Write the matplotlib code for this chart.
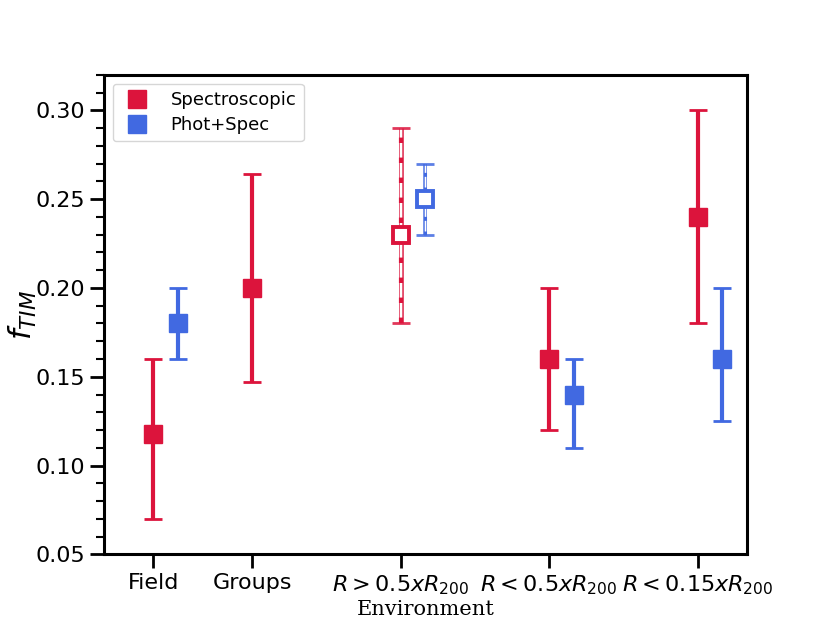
import matplotlib
matplotlib.use("Agg")
import matplotlib.pyplot as plt
import numpy as np

labels = ["Field", "Groups", r"$R > 0.5xR_{200}$", r"$R < 0.5xR_{200}$", r"$R < 0.15xR_{200}$"]
xpos = [0, 1, 2.5, 4, 5.5]

spec_y = [0.118, 0.200, 0.230, 0.160, 0.240]
spec_lo = [0.070, 0.147, 0.180, 0.120, 0.180]
spec_hi = [0.160, 0.264, 0.290, 0.200, 0.300]
spec_open = [False, False, True, False, False]

phot_idx = [0, 2, 3, 4]
phot_y = [0.180, 0.250, 0.140, 0.160]
phot_lo = [0.160, 0.230, 0.110, 0.125]
phot_hi = [0.200, 0.270, 0.160, 0.200]
phot_open = [False, True, False, False]

offset = 0.25
red = "#DC143C"
blue = "#4169E1"

fig = plt.figure(figsize=(8.3, 6.23), dpi=100)
ax = fig.add_subplot(111)


def draw(x, y, lo, hi, col, opn, lw, cap):
    if not opn:
        ax.errorbar([x], [y], yerr=[[y - lo], [hi - y]], fmt='s', color=col,
                    ms=13, elinewidth=lw, capsize=cap, capthick=2, zorder=3)
    else:
        # hollow dotted error bar
        ax.plot([x, x], [lo, hi], color=col, lw=lw + 0.6, alpha=0.75,
                solid_capstyle='butt', zorder=2)
        ax.plot([x, x], [lo, hi], color='white', lw=lw - 1.4,
                solid_capstyle='butt', zorder=2.1)
        ax.plot([x, x], [lo, hi], color=col, lw=lw, zorder=2.2,
                dashes=(1.3, 3.5), dash_capstyle='butt')
        ax.errorbar([x], [y], yerr=[[y - lo], [hi - y]], fmt='none', ecolor=col,
                    elinewidth=0, capsize=cap, capthick=2, alpha=0.85, zorder=2.3)
        ax.plot([x], [y], marker='s', ms=12, mfc='white', mec=col, mew=2.8,
                ls='none', zorder=4)


for i, x in enumerate(xpos):
    draw(x, spec_y[i], spec_lo[i], spec_hi[i], red, spec_open[i], 3.0, 6.5)
for j, i in enumerate(phot_idx):
    lw = 3.0 if not phot_open[j] else 2.2
    draw(xpos[i] + offset, phot_y[j], phot_lo[j], phot_hi[j], blue, phot_open[j], lw, 6.5)

# legend handles
ax.plot([], [], 's', color=red, ms=13, label="Spectroscopic")
ax.plot([], [], 's', color=blue, ms=13, label="Phot+Spec")
ax.legend(loc='upper left', fontsize=13, handletextpad=0.9, borderpad=0.4,
          labelspacing=0.4, handlelength=1.9)

ax.set_xlim(-0.5, 6.0)
ax.set_ylim(0.05, 0.32)
ax.set_xticks(xpos)
ax.set_xticklabels(labels)
ax.set_yticks([0.05, 0.10, 0.15, 0.20, 0.25, 0.30])
ax.set_yticks(np.arange(0.05, 0.3201, 0.01), minor=True)
ax.tick_params(axis='both', which='major', labelsize=16, length=10, width=2)
ax.tick_params(axis='y', which='minor', length=6, width=1.5)
for s in ax.spines.values():
    s.set_linewidth(2.2)
ax.set_ylabel(r"$f_{TIM}$", fontsize=22, labelpad=-3)
ax.set_xlabel("Environment", family="DejaVu Serif", fontsize=15, labelpad=2)

fig.savefig("out.png", dpi=100)
